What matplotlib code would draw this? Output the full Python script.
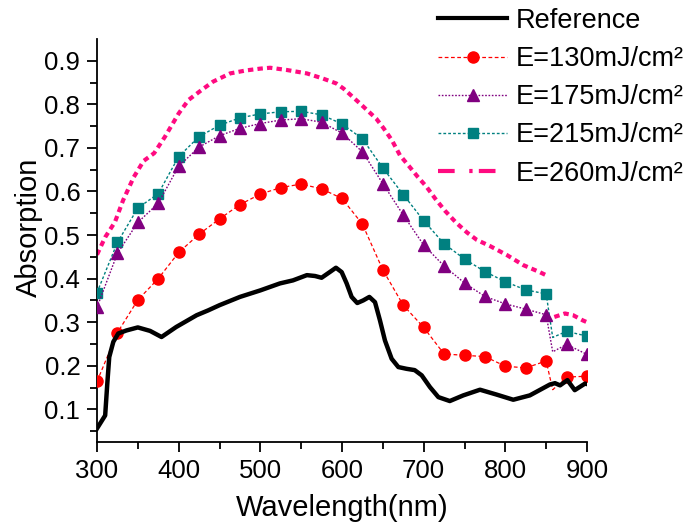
import matplotlib
matplotlib.use("Agg")
import matplotlib.pyplot as plt
from matplotlib.lines import Line2D
import numpy as np

plt.rcParams['font.family'] = ['Liberation Sans', 'DejaVu Sans']

# ---- data ----
# reference (black) curve
ref_x = [300, 310, 312.6, 315, 320, 326, 336, 350, 365, 379, 397, 422, 436, 450, 475, 500,
         524, 540, 557, 567, 575, 585, 592.6, 599.6, 605.7, 611.8, 618.7, 626, 633.5, 640.4,
         646.5, 652.6, 660.8, 669, 679, 689, 697.6, 707.7, 718, 732, 748.5, 769, 789,
         809.7, 830, 854.6, 860.8, 867, 876, 885, 897.5, 900]
ref_y = [0.056, 0.086, 0.159, 0.220, 0.255, 0.274, 0.281, 0.288, 0.280, 0.266, 0.289,
         0.316, 0.327, 0.339, 0.358, 0.373, 0.389, 0.396, 0.408, 0.406, 0.402, 0.415,
         0.425, 0.415, 0.389, 0.358, 0.344, 0.350, 0.358, 0.346, 0.304, 0.258, 0.216,
         0.197, 0.193, 0.190, 0.178, 0.151, 0.128, 0.119, 0.132, 0.145, 0.134, 0.122,
         0.132, 0.157, 0.160, 0.155, 0.167, 0.144, 0.159, 0.158]

# marker series (every 25 nm, plus one dip point near 858 nm between markers)
sym_x = [300, 325, 350, 375, 400, 425, 450, 475, 500, 525, 550, 575, 600, 625, 650,
         675, 700, 725, 750, 775, 800, 825, 850, 858, 875, 900]
e130 = [0.164, 0.276, 0.351, 0.400, 0.460, 0.502, 0.537, 0.570, 0.594, 0.609, 0.617,
        0.606, 0.584, 0.525, 0.420, 0.339, 0.288, 0.227, 0.224, 0.221, 0.199, 0.195,
        0.211, 0.145, 0.174, 0.176]
e175 = [0.334, 0.458, 0.529, 0.573, 0.658, 0.702, 0.728, 0.745, 0.756, 0.764, 0.767,
        0.759, 0.734, 0.691, 0.618, 0.546, 0.477, 0.429, 0.390, 0.359, 0.342, 0.330,
        0.317, 0.232, 0.249, 0.226]
e215 = [0.368, 0.483, 0.562, 0.595, 0.680, 0.726, 0.752, 0.769, 0.778, 0.783, 0.784,
        0.776, 0.755, 0.721, 0.654, 0.593, 0.533, 0.480, 0.445, 0.416, 0.393, 0.374,
        0.365, 0.265, 0.279, 0.268]

# 260 mJ/cm2 curve (no markers)
e260_x = [300, 310, 322, 332, 345, 357, 370, 383, 400, 412, 426, 442, 463, 483, 500, 512,
          532, 557, 577, 593, 602, 622, 642, 651, 661, 671, 683, 693, 703, 714, 726, 740,
          753, 765, 781, 802, 822, 842, 852, 856, 860, 873, 883, 895, 900]
e260_y = [0.455, 0.495, 0.530, 0.580, 0.633, 0.670, 0.688, 0.725, 0.779, 0.810, 0.830,
          0.852, 0.871, 0.878, 0.882, 0.884, 0.879, 0.871, 0.859, 0.848, 0.836, 0.802,
          0.767, 0.745, 0.718, 0.683, 0.656, 0.633, 0.612, 0.584, 0.556, 0.528, 0.506,
          0.489, 0.475, 0.454, 0.431, 0.415, 0.406, np.nan, 0.312, 0.320, 0.316, 0.304, 0.300]

labels = ['Reference', 'E=130mJ/cm\u00b2', 'E=175mJ/cm\u00b2', 'E=215mJ/cm\u00b2', 'E=260mJ/cm\u00b2']
xticks = [300, 400, 500, 600, 700, 800, 900]
yticks = [0.1, 0.2, 0.3, 0.4, 0.5, 0.6, 0.7, 0.8, 0.9]

# ---- figure ----
fig = plt.figure(figsize=(6.85, 5.28), dpi=100)
ax = fig.add_axes([97/685, 1-442/528, (587-97)/685, (442-39)/528])

marks = [i for i in range(len(sym_x)) if sym_x[i] % 25 == 0]

ax.plot(e260_x, e260_y, color='#FF0A80', lw=3.0, dashes=(1.3, 1.0), zorder=2)
ax.plot(sym_x, e215, color='#008080', lw=1.0, dashes=(2, 1.5), marker='s', ms=6.5,
        markevery=marks, mec='#008080', mfc='#008080', zorder=3)
ax.plot(sym_x, e175, color='#800080', lw=1.0, dashes=(1.2, 1.2), marker='^', ms=8,
        markevery=marks, mec='#800080', mfc='#800080', zorder=3)
ax.plot(sym_x, e130, color='#FF0000', lw=0.9, dashes=(3, 2), marker='o', ms=8,
        markevery=marks, mec='#FF0000', mfc='#FF0000', zorder=3)
ax.plot(ref_x, ref_y, color='black', lw=3.2, zorder=4, solid_joinstyle='round')

ax.set_xlim(300, 900)
ax.set_ylim(0.025, 0.95)
ax.set_xticks(xticks)
ax.set_xticks(np.arange(350, 900, 100), minor=True)
ax.set_yticks(yticks)
ax.set_yticks(np.arange(0.05, 0.95, 0.1), minor=True)
ax.set_yticklabels([f'{v:.1f}' for v in yticks])

for s in ['top', 'right']:
    ax.spines[s].set_visible(False)
for s in ['left', 'bottom']:
    ax.spines[s].set_linewidth(1.3)
ax.tick_params(which='major', direction='out', length=7, width=1.3, labelsize=18.5, pad=5)
ax.tick_params(which='minor', direction='out', length=5, width=1.3)

ax.set_xlabel('Wavelength(nm)', fontsize=21)
ax.set_ylabel('Absorption', fontsize=21)
ax.xaxis.set_label_coords(0.5, -0.13)
ax.yaxis.set_label_coords(-0.11, 0.533)

handles = [
    Line2D([], [], color='black', lw=3.0),
    Line2D([], [], color='#FF0000', lw=0.9, dashes=(3, 2), marker='o', ms=8),
    Line2D([], [], color='#800080', lw=1.0, dashes=(1.2, 1.2), marker='^', ms=8),
    Line2D([], [], color='#008080', lw=1.0, dashes=(2, 1.5), marker='s', ms=6.5),
    Line2D([], [], color='#FF0A80', lw=3.0, dashes=(4, 3.5, 0.8, 1.5)),
]
fig.legend(handles, labels, loc='upper left', bbox_to_anchor=(438/685, 0.985),
           frameon=False, fontsize=19.5, handlelength=2.55, handletextpad=0.33,
           labelspacing=0.45, borderpad=0, borderaxespad=0)

fig.savefig('out.png', dpi=100)
